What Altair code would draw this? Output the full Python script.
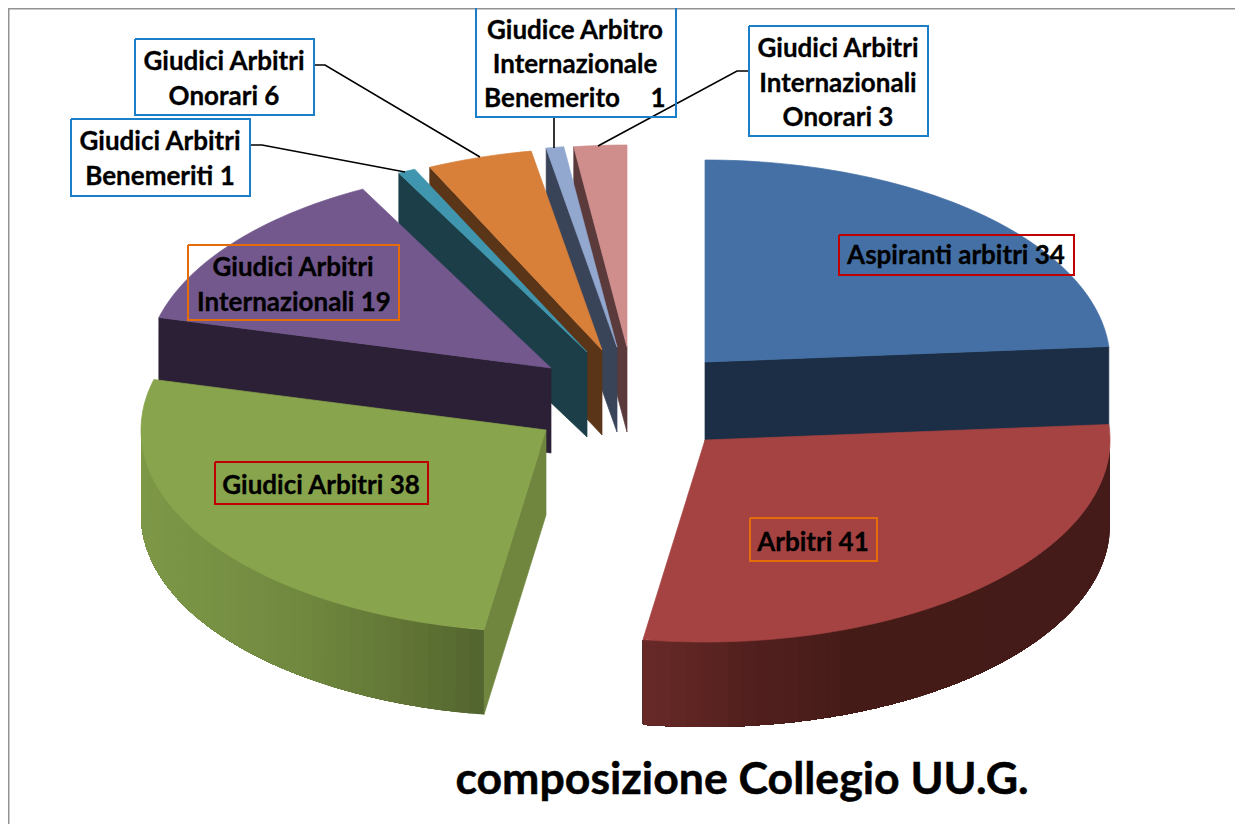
import math
import altair as alt

# slices, clockwise from twelve o'clock
categories = ["Aspiranti arbitri", "Arbitri", "Giudici Arbitri", "Giudici Arbitri Internazionali",
              "Giudici Arbitri Benemeriti", "Giudici Arbitri Onorari",
              "Giudice Arbitro Internazionale Benemerito", "Giudici Arbitri Internazionali Onorari"]
values = [34, 41, 38, 19, 1, 6, 1, 3]
top_colors = ["#4570a6", "#a54342", "#88a44c", "#72588c", "#4096ae", "#d8803a", "#92a8cf", "#cf8d8c"]
cut_colors = ["#1b2e45", "#5b1f1e", "#70863f", "#2b2035", "#1c3e48", "#5b3517", "#3a4459", "#5a3a3b"]
centers_x = [705, 705, 546, 551, 587, 602, 617, 627]
centers_y = [362, 440, 430, 368, 352, 350, 347, 347]
RX, RY, DEPTH = 405, 202, 85

# wall shading stops: (x pixel, colour)
green_wall = [(140, (126, 152, 72)), (300, (112, 137, 63)), (400, (98, 118, 54)), (483, (83, 101, 46))]
red_wall = [(643, (104, 42, 40)), (750, (82, 32, 30)), (850, (69, 27, 24)), (1110, (69, 27, 25))]

# labels: box (left, top, right, bottom), colour, text rows (x, y, text)
boxes = [
    (135, 39, 314, 115, "#1a7fc8"), (71, 119, 250, 196, "#1a7fc8"),
    (476, 4, 676, 117, "#1a7fc8"), (749, 26, 928, 136, "#1a7fc8"),
    (839, 235, 1074, 275, "#c00000"), (188, 245, 399, 320, "#e46c0a"),
    (215, 462, 428, 504, "#c00000"), (750, 518, 877, 561, "#e46c0a"),
]
label_x = [224, 224, 160, 160, 575, 575, 552, 658, 838, 838, 838, 956, 293, 294, 321, 813]
label_y = [62, 97, 142, 177, 31, 65, 99, 99, 49, 84, 118, 256, 268, 303, 486, 543]
label_text = ["Giudici Arbitri", "Onorari 6", "Giudici Arbitri", "Benemeriti 1",
              "Giudice Arbitro", "Internazionale", "Benemerito", "1",
              "Giudici Arbitri", "Internazionali", "Onorari 3",
              "Aspiranti arbitri 34", "Giudici Arbitri", "Internazionali 19",
              "Giudici Arbitri 38", "Arbitri 41"]
leaders = [
    [(314, 65), (325, 65), (480, 157)],
    [(250, 145), (262, 145), (405, 172)],
    [(554, 117), (554, 148)],
    [(749, 71), (737, 71), (598, 146)],
]
frame = [[(8.5, 824), (8.5, 8.5), (1243, 8.5)]]
title = "composizione Collegio UU.G."

total = sum(values)
edges = [0.0]
for v in values:
    edges.append(edges[-1] + v / total * 360)


def rim(i, deg):
    a = math.radians(deg)
    return (centers_x[i] + RX * math.sin(a), centers_y[i] - RY * math.cos(a))


def poly(pts, fill, stroke=None):
    ring = [list(p) for p in pts] + [list(pts[0])]
    return {"type": "Feature", "geometry": {"type": "Polygon", "coordinates": [ring]},
            "properties": {"fill": fill, "stroke": stroke or fill}}


def line(pts, stroke, width):
    return {"type": "Feature", "geometry": {"type": "LineString", "coordinates": [list(p) for p in pts]},
            "properties": {"stroke": stroke, "sw": width}}


def top_face(i):
    a0, a1 = edges[i], edges[i + 1]
    n = max(2, int((a1 - a0) / 1.5))
    pts = [(centers_x[i], centers_y[i])] + [rim(i, a0 + (a1 - a0) * k / n) for k in range(n + 1)]
    return poly(pts, top_colors[i])


def cut_face(i, deg):
    c = (centers_x[i], centers_y[i])
    r = rim(i, deg)
    return poly([c, r, (r[0], r[1] + DEPTH), (c[0], c[1] + DEPTH)], cut_colors[i])


def shade(stops, x):
    if x <= stops[0][0]:
        c = stops[0][1]
    elif x >= stops[-1][0]:
        c = stops[-1][1]
    else:
        for (x0, c0), (x1, c1) in zip(stops, stops[1:]):
            if x0 <= x <= x1:
                t = (x - x0) / (x1 - x0)
                c = tuple(c0[j] + (c1[j] - c0[j]) * t for j in range(3))
                break
    return "#%02x%02x%02x" % tuple(int(round(v)) for v in c)


def outer_wall(i, a0, a1, stops, forward=True):
    # painter's order: each band runs to the far end of the wall, the next one overdraws it
    out = []
    n = int((a1 - a0) / 2.0)
    arc = [rim(i, a0 + (a1 - a0) * k / (n * 4)) for k in range(n * 4 + 1)]
    order = range(n) if forward else range(n - 1, -1, -1)
    for k in order:
        seg = arc[k * 4:] if forward else arc[: (k + 1) * 4 + 1]
        mid = arc[k * 4 + 2]
        low = [(p[0], p[1] + DEPTH) for p in reversed(seg)]
        out.append(poly(seg + low, shade(stops, mid[0]), "transparent"))
    return out


shapes = []
for i in [7, 6, 5, 4, 3]:
    shapes += [cut_face(i, edges[i]), top_face(i)]
shapes += [cut_face(0, edges[1]), top_face(0)]
shapes += [cut_face(2, edges[2])] + outer_wall(2, edges[2], 270, green_wall) + [top_face(2)]
shapes += outer_wall(1, 90, edges[2], red_wall) + [top_face(1)]

strokes = [line(p, "#000000", 1.6) for p in leaders]
strokes += [line(p, "#929292", 2) for p in frame]
strokes += [line([(a, b), (c, b), (c, d), (a, d), (a, b)], col, 2) for a, b, c, d, col in boxes]

PROJ = dict(type="identity", scale=1, translate=[-8, -8])

shape_layer = alt.Chart(alt.Data(values=shapes)).mark_geoshape(strokeWidth=0.7).encode(
    fill=alt.Fill("properties.fill:N", scale=None),
    stroke=alt.Stroke("properties.stroke:N", scale=None),
).project(**PROJ)

line_layer = alt.Chart(alt.Data(values=strokes)).mark_geoshape(filled=False, fill="transparent").encode(
    stroke=alt.Stroke("properties.stroke:N", scale=None),
    strokeWidth=alt.StrokeWidth("properties.sw:Q", scale=None),
).project(**PROJ)

rows = [{"lon": x, "lat": y, "t": t} for x, y, t in zip(label_x, label_y, label_text)]
text_layer = alt.Chart(alt.Data(values=rows)).mark_text(
    font="Lato", fontWeight="bold", fontSize=26, color="#000000", stroke="#000000", strokeWidth=0.3,
    baseline="middle", align="center"
).encode(longitude="lon:Q", latitude="lat:Q", text="t:N").project(**PROJ)

title_layer = alt.Chart(alt.Data(values=[{"lon": 742, "lat": 781, "t": title}])).mark_text(
    font="Lato", fontWeight="bold", fontSize=44.6, color="#000000", stroke="#000000", strokeWidth=0.5,
    baseline="middle", align="center"
).encode(longitude="lon:Q", latitude="lat:Q", text="t:N").project(**PROJ)

chart = alt.layer(shape_layer, line_layer, text_layer, title_layer).properties(
    width=1227, height=817, padding=0, background="#ffffff",
    autosize=alt.AutoSizeParams(type="none"),
).configure_view(stroke=None)

chart.save("out.html", embed_options={"renderer": "svg", "actions": False})
